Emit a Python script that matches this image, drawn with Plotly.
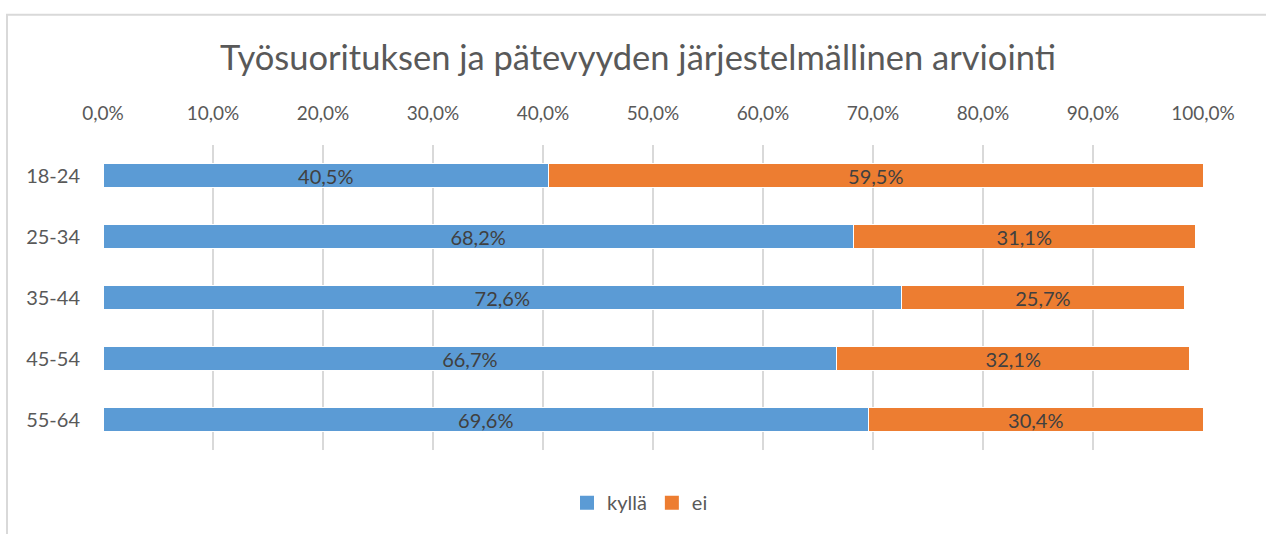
import plotly.graph_objects as go

# Age groups and share of responses (%)
categories = ["18-24", "25-34", "35-44", "45-54", "55-64"]
kylla = [40.5, 68.2, 72.6, 66.7, 69.6]
ei = [59.5, 31.1, 25.7, 32.1, 30.4]
tick_values = [0, 10, 20, 30, 40, 50, 60, 70, 80, 90, 100]
tick_labels = ["0,0%", "10,0%", "20,0%", "30,0%", "40,0%", "50,0%",
               "60,0%", "70,0%", "80,0%", "90,0%", "100,0%"]

FONT = "Lato"
W, H = 1266, 534
L, R, T, B = 103, 63, 145, 82

fig = go.Figure()
for name, vals, color in (("kyllä", kylla, "#5B9BD5"), ("ei", ei, "#ED7D31")):
    fig.add_trace(go.Bar(
        y=categories, x=vals, name=name, orientation="h",
        marker=dict(color=color, line=dict(color="white", width=1)),
        texttemplate="%{x:.1f}%", textposition="inside", insidetextanchor="middle",
        constraintext="none",
        insidetextfont=dict(color="#404040", size=20, family=FONT),
        showlegend=False, legendgroup=name,
    ))
    # square legend key for the series
    fig.add_trace(go.Scatter(
        x=[None], y=[None], mode="markers", name=name, legendgroup=name,
        marker=dict(symbol="square", size=14, color=color),
        showlegend=True, hoverinfo="skip",
    ))

pw = W - L - R
ph = H - T - B
fig.add_shape(
    type="rect", xref="paper", yref="paper",
    x0=(7 - L) / pw, x1=(W + 20 - L) / pw,
    y0=-(H + 20 - T - ph) / ph - 0.1, y1=(T - 14) / ph + 1,
    line=dict(color="#d9d9d9", width=2), fillcolor="rgba(0,0,0,0)", layer="below",
)

fig.update_layout(
    width=W, height=H,
    margin=dict(l=L, r=R, t=T, b=B),
    barmode="stack", bargap=0.61,
    separators=", ",
    paper_bgcolor="white", plot_bgcolor="white",
    font=dict(family=FONT, color="#595959", size=19),
    title=dict(
        text="Työsuorituksen ja pätevyyden järjestelmällinen arviointi",
        font=dict(size=34.5, color="#595959", family=FONT),
        x=638 / W, xanchor="center", xref="container",
        y=1 - 58 / H, yanchor="middle", yref="container",
    ),
    xaxis=dict(
        side="top", range=[0, 100], tickvals=tick_values, ticktext=tick_labels,
        showgrid=True, gridcolor="#d9d9d9", gridwidth=2,
        zeroline=False, showline=False, ticks="",
        ticklabelstandoff=20,
        tickfont=dict(size=19, color="#595959"),
        fixedrange=True,
    ),
    yaxis=dict(
        categoryorder="array", categoryarray=categories, autorange="reversed",
        showgrid=False, zeroline=False, showline=False, ticks="",
        ticklabelstandoff=22,
        tickfont=dict(size=20, color="#595959"),
    ),
    legend=dict(
        orientation="h", x=(640 - L) / pw, xanchor="center",
        y=(452 - 505) / ph, yanchor="middle",
        font=dict(size=20, color="#595959"),
        traceorder="normal", itemwidth=30,
    ),
    showlegend=True,
)

fig.write_html("out.html")
